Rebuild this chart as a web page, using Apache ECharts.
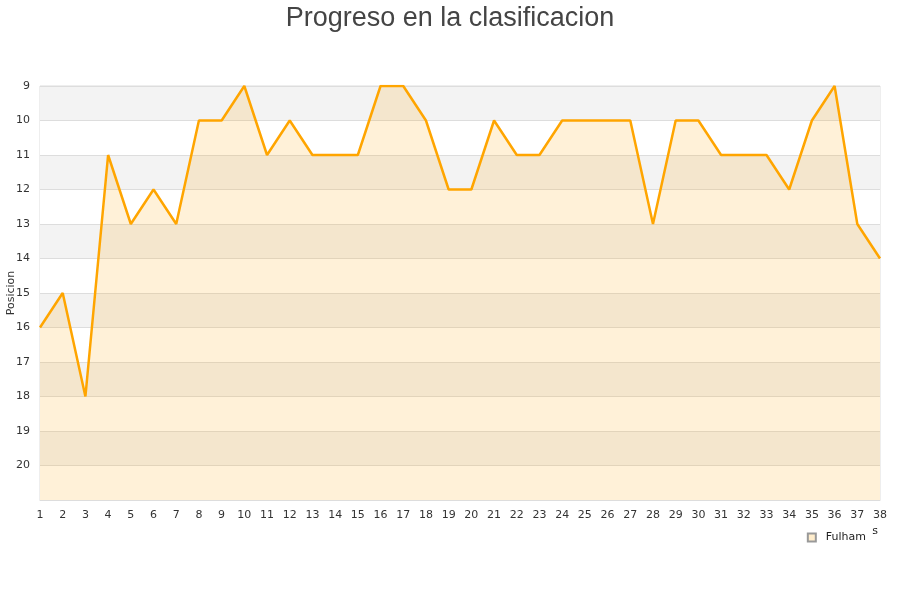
<!DOCTYPE html>
<html>
<head>
<meta charset="utf-8">
<script src="https://cdn.jsdelivr.net/npm/echarts@6/dist/echarts.min.js"></script>
<style>
  html, body { margin: 0; padding: 0; background: #fff; }
  #chart { width: 900px; height: 600px; }
</style>
</head>
<body>
<div id="chart"></div>
<script>
  // Jornadas 1..38
  const jornadas = [];
  for (let i = 1; i <= 38; i++) jornadas.push(String(i));

  // Posicion de Fulham por jornada
  const fulham = [16, 15, 18, 11, 13, 12, 13, 10, 10, 9, 11, 10, 11, 11, 11, 9, 9, 10, 12, 12,
    10, 11, 11, 10, 10, 10, 10, 13, 10, 10, 11, 11, 11, 12, 10, 9, 13, 14];

  const chart = echarts.init(document.getElementById('chart'));

  const options = {
    animation: false,
    title: {
      text: 'Progreso en la clasificacion',
      left: 'center',
      top: 0,
      textStyle: { fontFamily: 'Liberation Sans', fontSize: 27, fontWeight: 'normal', color: '#444' }
    },
    legend: {
      data: [{ name: 'Fulham', icon: 'rect' }],
      right: 28,
      top: 526,
      itemWidth: 8,
      itemHeight: 8,
      backgroundColor: '#fff',
      padding: [6, 6, 4, 4],
      textStyle: { fontFamily: 'DejaVu Sans', fontSize: 11, color: '#222', padding: [0, 0, 0, 5] }
    },
    grid: {
      left: 40,
      right: 20,
      top: 86,
      bottom: 100,
      outerBoundsMode: 'none',
      containLabel: false,
      show: true,
      borderColor: '#ddd',
      borderWidth: 1,
      backgroundColor: 'transparent'
    },
    xAxis: {
      type: 'category',
      data: jornadas,
      boundaryGap: false,
      name: 'Jornadas',
      nameLocation: 'end',
      nameGap: -2,
      nameMoveOverlap: false,
      nameTextStyle: { fontFamily: 'DejaVu Sans', fontSize: 11, color: '#222', align: 'right', verticalAlign: 'top', padding: [26, 0, 0, 0] },
      axisLine: { show: true, lineStyle: { color: '#ddd' } },
      axisTick: { show: false },
      axisLabel: { interval: 0, fontFamily: 'DejaVu Sans', fontSize: 11, color: '#333', margin: 10 },
      splitLine: { show: false }
    },
    yAxis: {
      type: 'value',
      inverse: true,
      min: 9,
      max: 21,
      interval: 1,
      name: 'Posicion',
      nameLocation: 'middle',
      nameGap: 23,
      nameMoveOverlap: false,
      nameTextStyle: { fontFamily: 'DejaVu Sans', fontSize: 11, color: '#333' },
      axisLine: { show: false },
      axisTick: { show: false },
      axisLabel: {
        fontFamily: 'DejaVu Sans', fontSize: 11, color: '#333', margin: 10,
        formatter: v => (v === 21 ? '' : String(v))
      },
      splitLine: { show: true, lineStyle: { color: '#ddd' } },
      splitArea: { show: true, areaStyle: { color: ['#f3f3f3', '#ffffff'] } }
    },
    series: [
      {
        name: 'Fulham',
        type: 'line',
        data: fulham,
        showSymbol: false,
        symbol: 'none',
        lineStyle: { color: '#ffa500', width: 2.5 },
        itemStyle: { color: '#ffedcc', borderColor: '#999', borderWidth: 1 },
        areaStyle: { color: 'rgba(255,165,0,0.22)', origin: 'end' }
      }
    ]
  };

  chart.setOption(options);
</script>
</body>
</html>
